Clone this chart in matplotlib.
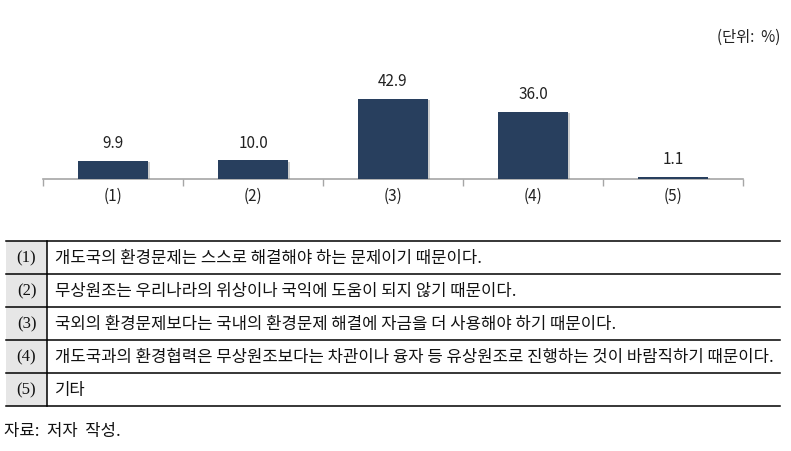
import matplotlib.pyplot as plt
import matplotlib.patheffects as pe

plt.rcParams['font.family'] = ['Noto Sans CJK KR', 'DejaVu Sans']

categories = ['(1)', '(2)', '(3)', '(4)', '(5)']
values = [9.9, 10.0, 42.9, 36.0, 1.1]
reasons = [
    '개도국의 환경문제는 스스로 해결해야 하는 문제이기 때문이다.',
    '무상원조는 우리나라의 위상이나 국익에 도움이 되지 않기 때문이다.',
    '국외의 환경문제보다는 국내의 환경문제 해결에 자금을 더 사용해야 하기 때문이다.',
    '개도국과의 환경협력은 무상원조보다는 차관이나 융자 등 유상원조로 진행하는 것이 바람직하기 때문이다.',
    '기타',
]
unit_text = '(단위:  %)'
source_text = '자료:  저자  작성.'

W, H = 791, 452
fig = plt.figure(figsize=(W / 100, H / 100), dpi=100)

# background axes in pixel coordinates for table and notes
bg = fig.add_axes([0, 0, 1, 1])
bg.set_xlim(0, W)
bg.set_ylim(H, 0)
bg.axis('off')

bar_color = '#283f5e'
grid_color = '#a6a6a6'

# bar chart axes
left, right, base, top = 43, 743, 180, 20
scale = 1.865  # px per percent
ax = fig.add_axes([left / W, (H - base) / H, (right - left) / W, (base - top) / H])
ax.patch.set_visible(False)
ax.set_xlim(-0.5, len(values) - 0.5)
ax.set_ylim(0, (base - top) / scale)
bars = ax.bar(range(len(values)), values, width=0.5, color=bar_color, zorder=3,
              path_effects=[pe.SimplePatchShadow(offset=(1.5, -1), alpha=0.35, shadow_rgbFace='#777777'),
                            pe.Normal()])
for i, v in enumerate(values):
    ax.text(i, v + 18 / scale, f'{v:.1f}', ha='center', va='center', fontsize=11, color='#222222')
for s in ['top', 'right', 'left']:
    ax.spines[s].set_visible(False)
ax.spines['bottom'].set_color(grid_color)
ax.spines['bottom'].set_linewidth(1.2)
ax.set_yticks([])
ax.set_xticks([i - 0.5 for i in range(len(values) + 1)])
ax.set_xticklabels([])
ax.tick_params(axis='x', length=5, color=grid_color, width=1)
for i, c in enumerate(categories):
    ax.text(i, -16 / scale, c, ha='center', va='center', fontsize=11, color='#222222', clip_on=False)

bg.text(780, 37, unit_text, ha='right', va='center', fontsize=11, color='#222222')

# description table
row_lines = [242, 275, 308, 341, 374, 407]
tx0, tx1, col = 6, 780, 47
for j in range(len(reasons)):
    y0, y1 = row_lines[j], row_lines[j + 1]
    bg.fill_between([tx0, col], y0, y1, color='#e6e6e6', lw=0)
    bg.text((tx0 + col) / 2, (y0 + y1) / 2, categories[j], ha='center', va='center',
            fontsize=12, family='Liberation Serif', color='#111111')
    bg.text(55, (y0 + y1) / 2, reasons[j], ha='left', va='center', fontsize=12.0, color='#111111')
for y in row_lines:
    bg.plot([tx0, tx1], [y, y], color='black', lw=1.1)
bg.plot([col, col], [row_lines[0], row_lines[-1]], color='black', lw=1.1)

bg.text(4, 432, source_text, ha='left', va='center', fontsize=12.0, color='#111111')

fig.savefig('out.png', dpi=100)
